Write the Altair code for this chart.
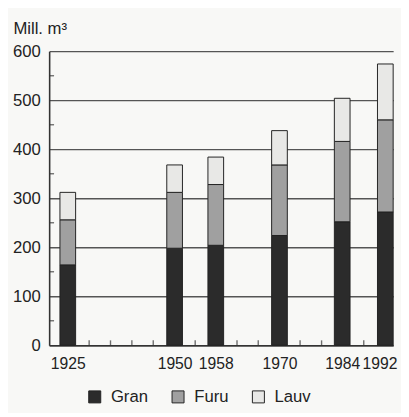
import altair as alt
import pandas as pd

years = [1925, 1950, 1958, 1970, 1984, 1992]
species = ["Gran", "Furu", "Lauv"]
gran = [164, 198, 204, 224, 252, 272]
furu = [92, 114, 124, 144, 164, 188]
lauv = [56, 56, 56, 70, 88, 114]
colors = ["#2b2b2b", "#a0a0a0", "#e8e8e6"]
y_ticks = [0, 100, 200, 300, 400, 500, 600]
y_minor = [50, 150, 250, 350, 450, 550]
x_minor = [1930, 1935, 1940, 1945, 1954, 1962, 1966, 1974.6, 1979.4, 1988]

rows = []
for i, y in enumerate(years):
    for k, (name, vals) in enumerate(zip(species, [gran, furu, lauv])):
        rows.append({"year": y, "art": name, "verdi": vals[i], "rekkefolge": k})
df = pd.DataFrame(rows)

FONT = "Liberation Sans"
W, H = 351, 300
xscale = alt.Scale(domain=[1921] + years + [1994],
                   range=[0, 19, 128, 170, 235, 299, 343, W], nice=False, zero=False)
yscale = alt.Scale(domain=[0, 600], nice=False)

bars = alt.Chart(df).mark_bar(size=16, stroke="#222", strokeWidth=1).encode(
    x=alt.X("year:Q", scale=xscale,
            axis=alt.Axis(values=years, format="d", title=None, grid=False, ticks=False,
                          tickSize=0, labelPadding=11, labelFontSize=16,
                          labelOffset={"condition": {"test": "datum.value == 1992", "value": -6},
                                       "value": 0},
                          domainColor="#333", domainWidth=1.6, labelFlush=False)),
    y=alt.Y("sum(verdi):Q", stack="zero", scale=yscale,
            axis=alt.Axis(values=y_ticks, title="Mill. m³", titleAngle=0, titleAlign="left",
                          titleBaseline="alphabetic", titleX=-37, titleY=-18,
                          titleFontSize=17, titleFontWeight="normal", titleColor="#222",
                          grid=True, gridColor="#555", gridWidth=1.3, ticks=False, tickSize=0,
                          labelPadding=9, labelFontSize=17,
                          domainColor="#333", domainWidth=1.6)),
    color=alt.Color("art:N", scale=alt.Scale(domain=species, range=colors),
                    legend=alt.Legend(title=None, orient="none", direction="horizontal",
                                      legendX=38, legendY=H + 44,
                                      symbolType="square", symbolSize=150,
                                      symbolStrokeColor="#222", symbolStrokeWidth=1,
                                      labelFontSize=17, labelColor="#222", labelOffset=8,
                                      columnPadding=22, labelFont=FONT)),
    order=alt.Order("rekkefolge:Q", sort="ascending"),
)

xt = alt.Chart(pd.DataFrame({"year": x_minor})).mark_tick(
    orient="vertical", size=5, thickness=1.4, color="#333"
).encode(x=alt.X("year:Q", scale=xscale), y=alt.value(H - 2.5))

yt = alt.Chart(pd.DataFrame({"v": y_minor})).mark_tick(
    orient="horizontal", size=5, thickness=1.4, color="#333"
).encode(y=alt.Y("v:Q", scale=yscale), x=alt.value(2.5))

chart = alt.layer(bars, xt, yt).properties(
    width=W, height=H,
    autosize=alt.AutoSizeParams(type="none"),
    padding={"left": 42, "top": 40, "right": 8, "bottom": 65},
    background="#f8f8f6",
).configure_view(stroke=None).configure_axis(
    labelFont=FONT, titleFont=FONT, labelColor="#222"
).configure_legend(labelFont=FONT)

chart.save("out.html", embed_options={"renderer": "svg", "actions": False})
